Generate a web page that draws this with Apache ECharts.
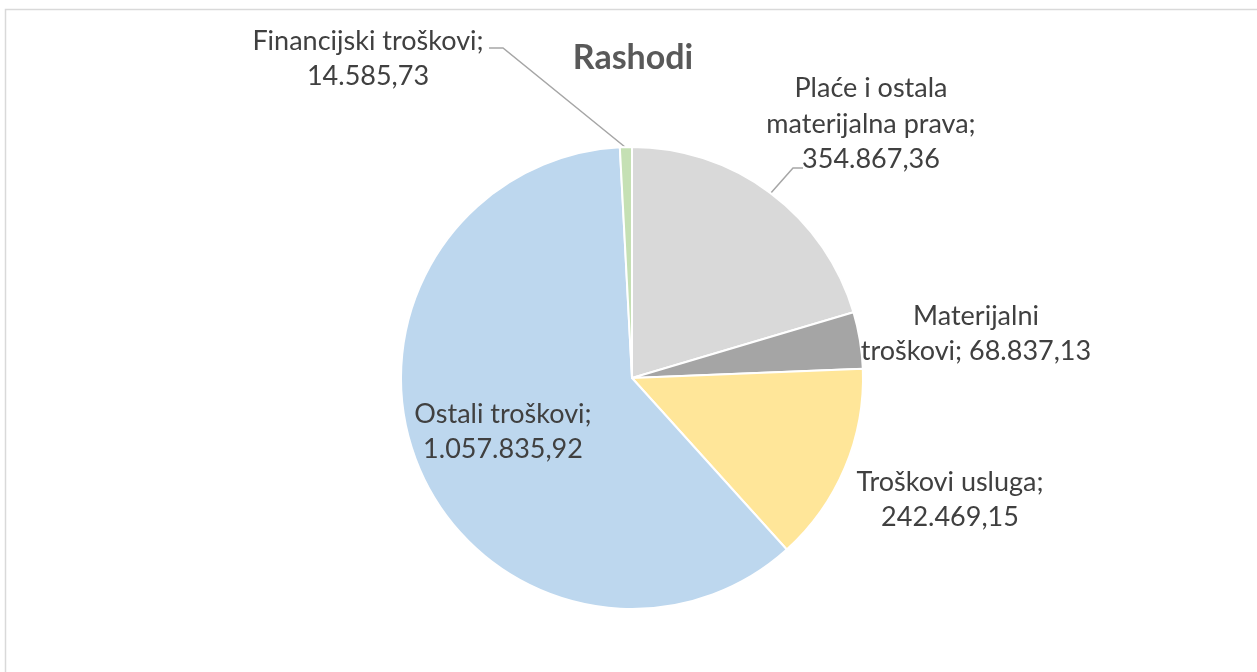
<!DOCTYPE html>
<html><head><meta charset="utf-8">
<script src="https://cdn.jsdelivr.net/npm/echarts@6/dist/echarts.min.js"></script>
<style>html,body{margin:0;padding:0;background:#fff}#c{width:1257px;height:672px}</style>
</head><body><div id="c"></div>
<script>
const categories = ['Plaće i ostala materijalna prava', 'Materijalni troškovi', 'Troškovi usluga', 'Ostali troškovi', 'Financijski troškovi'];
const values = [354867.36, 68837.13, 242469.15, 1057835.92, 14585.73];
const labelHeads = ['Plaće i ostala\nmaterijalna prava;\n', 'Materijalni\ntroškovi; ', 'Troškovi usluga;\n', 'Ostali troškovi;\n', 'Financijski troškovi;\n'];
const colors = ['#d9d9d9', '#a5a5a5', '#ffe699', '#bdd7ee', '#c5e0b4'];
const titleText = 'Rashodi';

function fmt(v) {
  const parts = v.toFixed(2).split('.');
  return parts[0].replace(/\B(?=(\d{3})+(?!\d))/g, '.') + ',' + parts[1];
}

const cx = 632, cy = 378, R = 231;
// label block centres and leader lines
const labelPos = [
  {x: 871, y: 124, line: [[770, 194], [793, 168], [803, 168]]},
  {x: 976, y: 334},
  {x: 950, y: 500},
  {x: 503, y: 432},
  {x: 368, y: 59, line: [[625, 147], [503, 48], [489, 48]]}
];

const chart = echarts.init(document.getElementById('c'), null, {renderer: 'canvas'});
chart.setOption({
  animation: false,
  backgroundColor: '#fff',
  title: {
    text: titleText, left: 628, top: 36, textAlign: 'center',
    textStyle: {fontFamily: 'Lato', fontWeight: 'bold', fontSize: 34, color: '#595959'}
  },
  graphic: [{
    type: 'rect', shape: {x: 5.5, y: 9.5, width: 1300, height: 700},
    style: {fill: 'none', stroke: '#d9d9d9', lineWidth: 1.5}, silent: true
  }],
  series: [{
    type: 'pie',
    center: [cx, cy], radius: R,
    startAngle: 90, clockwise: true,
    avoidLabelOverlap: false,
    itemStyle: {borderColor: '#fff', borderWidth: 2},
    label: {
      show: true, position: 'outside',
      fontFamily: 'Lato', fontSize: 27, lineHeight: 35.5, color: '#404040', align: 'center',
      formatter: p => labelHeads[p.dataIndex] + fmt(p.value)
    },
    labelLine: {lineStyle: {color: '#a6a6a6', width: 1.5}},
    labelLayout: function (p) {
      const lp = labelPos[p.dataIndex];
      const o = {x: lp.x, y: lp.y, align: 'center', verticalAlign: 'middle'};
      if (lp.line) o.labelLinePoints = lp.line;
      return o;
    },
    data: categories.map((n, i) => ({
      name: n, value: values[i],
      itemStyle: {color: colors[i]},
      labelLine: {show: !!labelPos[i].line}
    }))
  }]
});
</script></body></html>
